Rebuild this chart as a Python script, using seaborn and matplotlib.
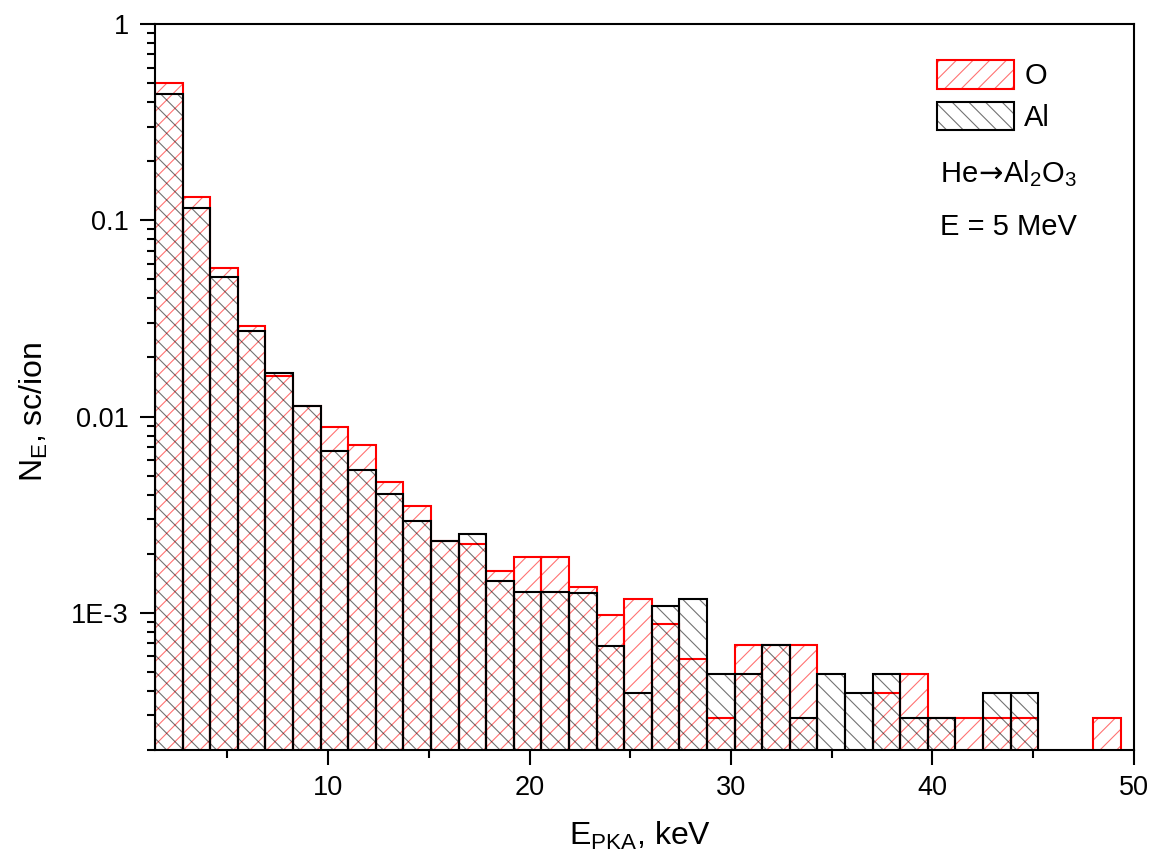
import numpy as np
import pandas as pd
import matplotlib
matplotlib.use("Agg")
import matplotlib.pyplot as plt
import matplotlib.ticker as mticker
from matplotlib.patches import Patch
from matplotlib.legend_handler import HandlerTuple
import seaborn as sns

# Energy binning of the primary-knock-on-atom spectrum (keV)
e_start = 1.41
bin_width = 1.37
n_bins = 35

# Recoil yield per incident ion in each energy bin
n_oxygen = [
    0.498, 0.131, 0.0571, 0.0288, 0.0160, 0.0113, 0.00883, 0.00714, 0.00466, 0.00351,
    0.00231, 0.00224, 0.00164, 0.00193, 0.00193, 0.00136, 0.000980, 0.00117, 0.000880, 0.000585,
    0.000292, 0.000684, 0.000684, 0.000684, 0.0, 0.0, 0.000390, 0.000487, 0.000292, 0.000292,
    0.000292, 0.000292, 0.0, 0.0, 0.000292,
]
n_aluminium = [
    0.438, 0.115, 0.0514, 0.0272, 0.0166, 0.0113, 0.00671, 0.00535, 0.00403, 0.00292,
    0.00231, 0.00252, 0.00145, 0.00127, 0.00127, 0.00126, 0.000680, 0.000390, 0.00108, 0.00117,
    0.000487, 0.000487, 0.000684, 0.000292, 0.000487, 0.000390, 0.000487, 0.000292, 0.000292, 0.0,
    0.000390, 0.000390, 0.0, 0.0, 0.0,
]
species_names = ["O", "Al"]

y_tick_values = [1e-3, 1e-2, 1e-1, 1]
y_tick_labels = ["1E-3", "0.01", "0.1", "1"]
x_tick_values = [10, 20, 30, 40, 50]

edges = [float(v) for v in e_start + bin_width * np.arange(n_bins + 1)]
centers = [0.5 * (a + b) for a, b in zip(edges[:-1], edges[1:])]
df = pd.DataFrame({
    "E": centers + centers,
    "N": n_oxygen + n_aluminium,
    "species": [species_names[0]] * n_bins + [species_names[1]] * n_bins,
})

sns.set_theme(style="ticks")
plt.rcParams["font.family"] = ["Liberation Sans", "DejaVu Sans"]
plt.rcParams["mathtext.default"] = "regular"
plt.rcParams["hatch.linewidth"] = 0.8
for key in ["text.color", "axes.labelcolor", "xtick.color", "ytick.color", "axes.edgecolor"]:
    plt.rcParams[key] = "black"

fig = plt.figure(figsize=(11.51, 8.65), dpi=100)
ax = fig.add_axes([0.1347, 0.1329, 0.8505, 0.8394])

styles = {
    "O": dict(color=(1.0, 0.0, 0.0), hatch="//"),
    "Al": dict(color=(0.0, 0.0, 0.0), hatch="\\\\"),
}
outline_w = 1.5
legend_handles = []
for name in species_names:
    sub = df[df["species"] == name]
    col = styles[name]["color"]
    # light hatching inside the bins
    sns.histplot(data=sub, x="E", weights="N", bins=edges, fill=False,
                 color=col, alpha=0.55, hatch=styles[name]["hatch"],
                 linewidth=0, ax=ax)
    # solid bin outlines
    sns.histplot(data=sub, x="E", weights="N", bins=edges, fill=False,
                 color=col, linewidth=outline_w, ax=ax)
    legend_handles.append((
        Patch(facecolor="none", edgecolor=(*col, 0.55), hatch=styles[name]["hatch"], linewidth=0),
        Patch(facecolor="none", edgecolor=col, linewidth=outline_w),
    ))

ax.set_yscale("log")
ax.set_ylim(2e-4, 1)
ax.set_xlim(e_start, 50)

ax.yaxis.set_major_locator(mticker.FixedLocator(y_tick_values))
ax.yaxis.set_major_formatter(mticker.FixedFormatter(y_tick_labels))
ax.yaxis.set_minor_locator(mticker.LogLocator(base=10, subs=np.arange(2, 10)))
ax.yaxis.set_minor_formatter(mticker.NullFormatter())
ax.xaxis.set_major_locator(mticker.FixedLocator(x_tick_values))
ax.xaxis.set_minor_locator(mticker.MultipleLocator(5))

for side in ["left", "right", "top", "bottom"]:
    ax.spines[side].set_visible(True)
    ax.spines[side].set_linewidth(1.5)
    ax.spines[side].set_color("black")

ax.tick_params(axis="both", which="major", direction="out", length=11, width=1.5,
               labelsize=19.5, pad=7, colors="black", top=False, right=False)
ax.tick_params(axis="both", which="minor", direction="out", length=6, width=1.5,
               colors="black", top=False, right=False)
ax.tick_params(axis="y", which="major", pad=8)

ax.set_xlabel("E$_{PKA}$, keV", fontsize=23)
ax.set_ylabel("N$_E$, sc/ion", fontsize=23)
ax.xaxis.set_label_coords(0.495, -0.096)
ax.yaxis.set_label_coords(-0.107, 0.466)

ax.legend(legend_handles, species_names, handler_map={tuple: HandlerTuple(ndivide=1)},
          loc="upper left", bbox_to_anchor=(0.799, 0.950), frameon=False,
          fontsize=21, borderpad=0, borderaxespad=0, handlelength=2.64,
          handleheight=1.12, handletextpad=0.35, labelspacing=0.40)

ax.text(0.802, 0.782, "He$\\!\\mathrm{\\rightarrow}\\!$Al$_2$O$_3$", transform=ax.transAxes,
        fontsize=21, ha="left", va="baseline")
ax.text(0.802, 0.709, "E = 5 MeV", transform=ax.transAxes,
        fontsize=21, ha="left", va="baseline")

fig.savefig("out.png", dpi=100)
